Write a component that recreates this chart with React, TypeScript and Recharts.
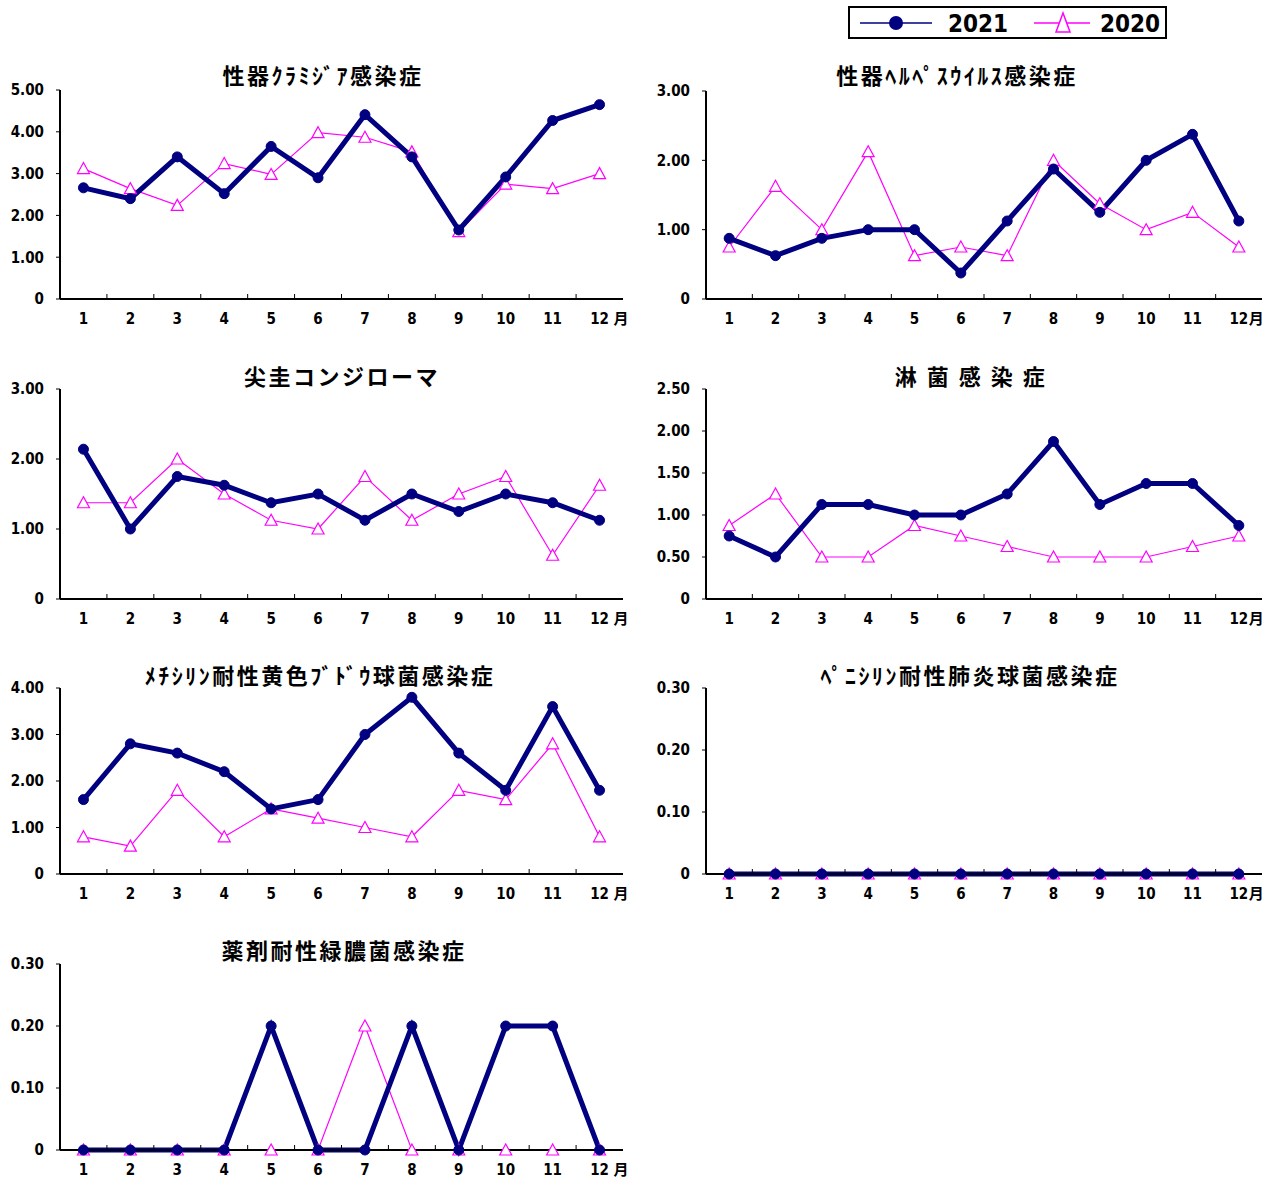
import React from 'react';
import { LineChart, Line, XAxis, YAxis } from 'recharts';

const MONTHS = ['1', '2', '3', '4', '5', '6', '7', '8', '9', '10', '11', '12'];
const SERIES = ['2021', '2020'];

const CHLAMYDIA_2021 = [2.66, 2.4, 3.4, 2.52, 3.65, 2.9, 4.41, 3.4, 1.65, 2.92, 4.27, 4.65];
const CHLAMYDIA_2020 = [3.12, 2.64, 2.24, 3.24, 2.98, 3.98, 3.87, 3.52, 1.61, 2.75, 2.64, 3.0];
const HERPES_2021 = [0.875, 0.625, 0.875, 1.0, 1.0, 0.375, 1.125, 1.875, 1.25, 2.0, 2.375, 1.125];
const HERPES_2020 = [0.75, 1.625, 1.0, 2.125, 0.625, 0.75, 0.625, 2.0, 1.375, 1.0, 1.25, 0.75];
const CONDYLOMA_2021 = [2.14, 1.0, 1.75, 1.625, 1.375, 1.5, 1.125, 1.5, 1.25, 1.5, 1.375, 1.125];
const CONDYLOMA_2020 = [1.375, 1.375, 2.0, 1.5, 1.125, 1.0, 1.75, 1.125, 1.5, 1.75, 0.625, 1.625];
const GONORRHEA_2021 = [0.75, 0.5, 1.125, 1.125, 1.0, 1.0, 1.25, 1.875, 1.125, 1.375, 1.375, 0.875];
const GONORRHEA_2020 = [0.875, 1.25, 0.5, 0.5, 0.875, 0.75, 0.625, 0.5, 0.5, 0.5, 0.625, 0.75];
const MRSA_2021 = [1.6, 2.8, 2.6, 2.2, 1.4, 1.6, 3.0, 3.8, 2.6, 1.8, 3.6, 1.8];
const MRSA_2020 = [0.8, 0.6, 1.8, 0.8, 1.4, 1.2, 1.0, 0.8, 1.8, 1.6, 2.8, 0.8];
const PRSP_2021 = [0, 0, 0, 0, 0, 0, 0, 0, 0, 0, 0, 0];
const PRSP_2020 = [0, 0, 0, 0, 0, 0, 0, 0, 0, 0, 0, 0];
const MDRP_2021 = [0, 0, 0, 0, 0.2, 0, 0, 0.2, 0, 0.2, 0.2, 0];
const MDRP_2020 = [0, 0, 0, 0, 0, 0, 0.2, 0, 0, 0, 0, 0];

const TICKS_5 = [0, 1, 2, 3, 4, 5];
const TICKS_3 = [0, 1, 2, 3];
const TICKS_25 = [0, 0.5, 1, 1.5, 2, 2.5];
const TICKS_4 = [0, 1, 2, 3, 4];
const TICKS_03 = [0, 0.1, 0.2, 0.3];

const NAVY = '#000080';
const MAGENTA = '#FF00FF';
const NUM_FONT = "'DejaVu Sans Condensed', 'Liberation Sans Narrow', sans-serif";
const JP_FONT = "'Noto Sans CJK JP', sans-serif";

// plot rectangles are page coordinates of the inner plot area
const PANELS = [
  { title: '性器ｸﾗﾐｼﾞｱ感染症', y21: CHLAMYDIA_2021, y20: CHLAMYDIA_2020, ticks: TICKS_5,
    plot: { x: 60, y: 90, w: 563, h: 209 }, titleX: 323, titleY: 74, gap: 14 },
  { title: '性器ﾍﾙﾍﾟｽｳｲﾙｽ感染症', y21: HERPES_2021, y20: HERPES_2020, ticks: TICKS_3,
    plot: { x: 706, y: 91, w: 556, h: 208 }, titleX: 957, titleY: 74, gap: 10 },
  { title: '尖圭コンジローマ', y21: CONDYLOMA_2021, y20: CONDYLOMA_2020, ticks: TICKS_3,
    plot: { x: 60, y: 389, w: 563, h: 210 }, titleX: 342, titleY: 375, gap: 14 },
  { title: '淋 菌 感 染 症', y21: GONORRHEA_2021, y20: GONORRHEA_2020, ticks: TICKS_25,
    plot: { x: 706, y: 389, w: 556, h: 210 }, titleX: 971, titleY: 375, gap: 10 },
  { title: 'ﾒﾁｼﾘﾝ耐性黄色ﾌﾞﾄﾞｳ球菌感染症', y21: MRSA_2021, y20: MRSA_2020, ticks: TICKS_4,
    plot: { x: 60, y: 688, w: 563, h: 186 }, titleX: 320, titleY: 674, gap: 14 },
  { title: 'ﾍﾟﾆｼﾘﾝ耐性肺炎球菌感染症', y21: PRSP_2021, y20: PRSP_2020, ticks: TICKS_03,
    plot: { x: 706, y: 688, w: 556, h: 186 }, titleX: 970, titleY: 674, gap: 10 },
  { title: '薬剤耐性緑膿菌感染症', y21: MDRP_2021, y20: MDRP_2020, ticks: TICKS_03,
    plot: { x: 60, y: 964, w: 563, h: 186 }, titleX: 344, titleY: 949, gap: 14 },
];

const Triangle = (props: any) => {
  const { cx, cy } = props;
  if (cx == null || cy == null) return null;
  return (
    <polygon
      points={`${cx},${cy - 6} ${cx - 6},${cy + 5} ${cx + 6},${cy + 5}`}
      fill="#fff"
      stroke={MAGENTA}
      strokeWidth={1.2}
    />
  );
};

const MonthTick = (props: any) => {
  const { x, y, payload, index, bw, gap } = props;
  return (
    <g>
      {index < 11 && (
        <line x1={x + bw / 2} x2={x + bw / 2} y1={y} y2={y - 5} stroke="#000" strokeWidth={1} />
      )}
      <text x={x} y={y + 25} textAnchor="middle" fontFamily={NUM_FONT} fontWeight="bold" fontSize={15} fill="#000">
        {payload.value}
      </text>
      {index === 11 && (
        <text x={x + gap} y={y + 25} textAnchor="start" fontFamily={JP_FONT} fontWeight="bold" fontSize={15} fill="#000">
          月
        </text>
      )}
    </g>
  );
};

const fmt = (v: number) => (v === 0 ? '0' : v.toFixed(2));

const Panel = ({ cfg }: { cfg: any }) => {
  const data = MONTHS.map((m, i) => ({ m, y2021: cfg.y21[i], y2020: cfg.y20[i] }));
  const { x, y, w, h } = cfg.plot;
  const YW = 60;
  const TOP = 10;
  const XH = 40;
  const RIGHT = 20;
  const max = cfg.ticks[cfg.ticks.length - 1];
  return (
    <>
      <div
        style={{
          position: 'absolute',
          left: cfg.titleX - 250,
          top: cfg.titleY - 16,
          width: 500,
          height: 32,
          lineHeight: '32px',
          textAlign: 'center',
          fontFamily: JP_FONT,
          fontWeight: 'bold',
          fontSize: 22,
          letterSpacing: 2.5,
          color: '#000',
          whiteSpace: 'pre',
        }}
      >
        {cfg.title}
      </div>
      <div style={{ position: 'absolute', left: x - YW, top: y - TOP }}>
        <LineChart
          width={w + YW + RIGHT}
          height={h + TOP + XH}
          data={data}
          margin={{ top: TOP, right: RIGHT, left: 0, bottom: 0 }}
        >
          <XAxis
            dataKey="m"
            scale="band"
            interval={0}
            height={XH}
            tickSize={0}
            tickMargin={0}
            tickLine={false}
            axisLine={{ stroke: '#000', strokeWidth: 2 }}
            tick={(p: any) => <MonthTick {...p} bw={w / 12} gap={cfg.gap} />}
          />
          <XAxis
            xAxisId="top"
            orientation="top"
            dataKey="m"
            height={0}
            tick={false}
            tickLine={false}
            axisLine={{ stroke: '#222', strokeWidth: 1 }}
          />
          <YAxis
            domain={[0, max]}
            ticks={cfg.ticks}
            width={YW}
            tickSize={4}
            tickMargin={12}
            tickLine={{ stroke: '#000' }}
            axisLine={{ stroke: '#000', strokeWidth: 2 }}
            tickFormatter={fmt}
            tick={{ fill: '#000', fontFamily: NUM_FONT, fontWeight: 'bold', fontSize: 15 }}
          />
          <YAxis
            yAxisId="right"
            orientation="right"
            width={0}
            tick={false}
            tickLine={false}
            axisLine={{ stroke: '#222', strokeWidth: 1 }}
          />
          <Line
            dataKey="y2020"
            name={SERIES[1]}
            stroke={MAGENTA}
            strokeWidth={1.2}
            dot={<Triangle />}
            isAnimationActive={false}
          />
          <Line
            dataKey="y2021"
            name={SERIES[0]}
            stroke={NAVY}
            strokeWidth={5}
            dot={{ r: 5, fill: NAVY, stroke: NAVY, strokeWidth: 1 }}
            isAnimationActive={false}
          />
        </LineChart>
      </div>
    </>
  );
};

const LegendBox = () => (
  <svg
    width={319}
    height={33}
    style={{ position: 'absolute', left: 848, top: 6 }}
  >
    <rect x={1} y={1} width={317} height={31} fill="#fff" stroke="#000" strokeWidth={2} />
    <line x1={12} x2={84} y1={17} y2={17} stroke={NAVY} strokeWidth={1.5} />
    <circle cx={48} cy={17} r={7} fill={NAVY} />
    <text x={100} y={26} fontFamily={NUM_FONT} fontWeight="bold" fontSize={24} fill="#000">
      {SERIES[0]}
    </text>
    <line x1={186} x2={242} y1={17} y2={17} stroke={MAGENTA} strokeWidth={1.5} />
    <polygon points="215,7 208,26 222,26" fill="#fff" stroke={MAGENTA} strokeWidth={1.5} />
    <text x={252} y={26} fontFamily={NUM_FONT} fontWeight="bold" fontSize={24} fill="#000">
      {SERIES[1]}
    </text>
  </svg>
);

export default function App() {
  return (
    <div
      style={{
        position: 'absolute',
        left: 0,
        top: 0,
        width: 1284,
        height: 1180,
        background: '#fff',
        overflow: 'hidden',
      }}
    >
      <LegendBox />
      {PANELS.map((cfg, i) => (
        <Panel key={i} cfg={cfg} />
      ))}
    </div>
  );
}
